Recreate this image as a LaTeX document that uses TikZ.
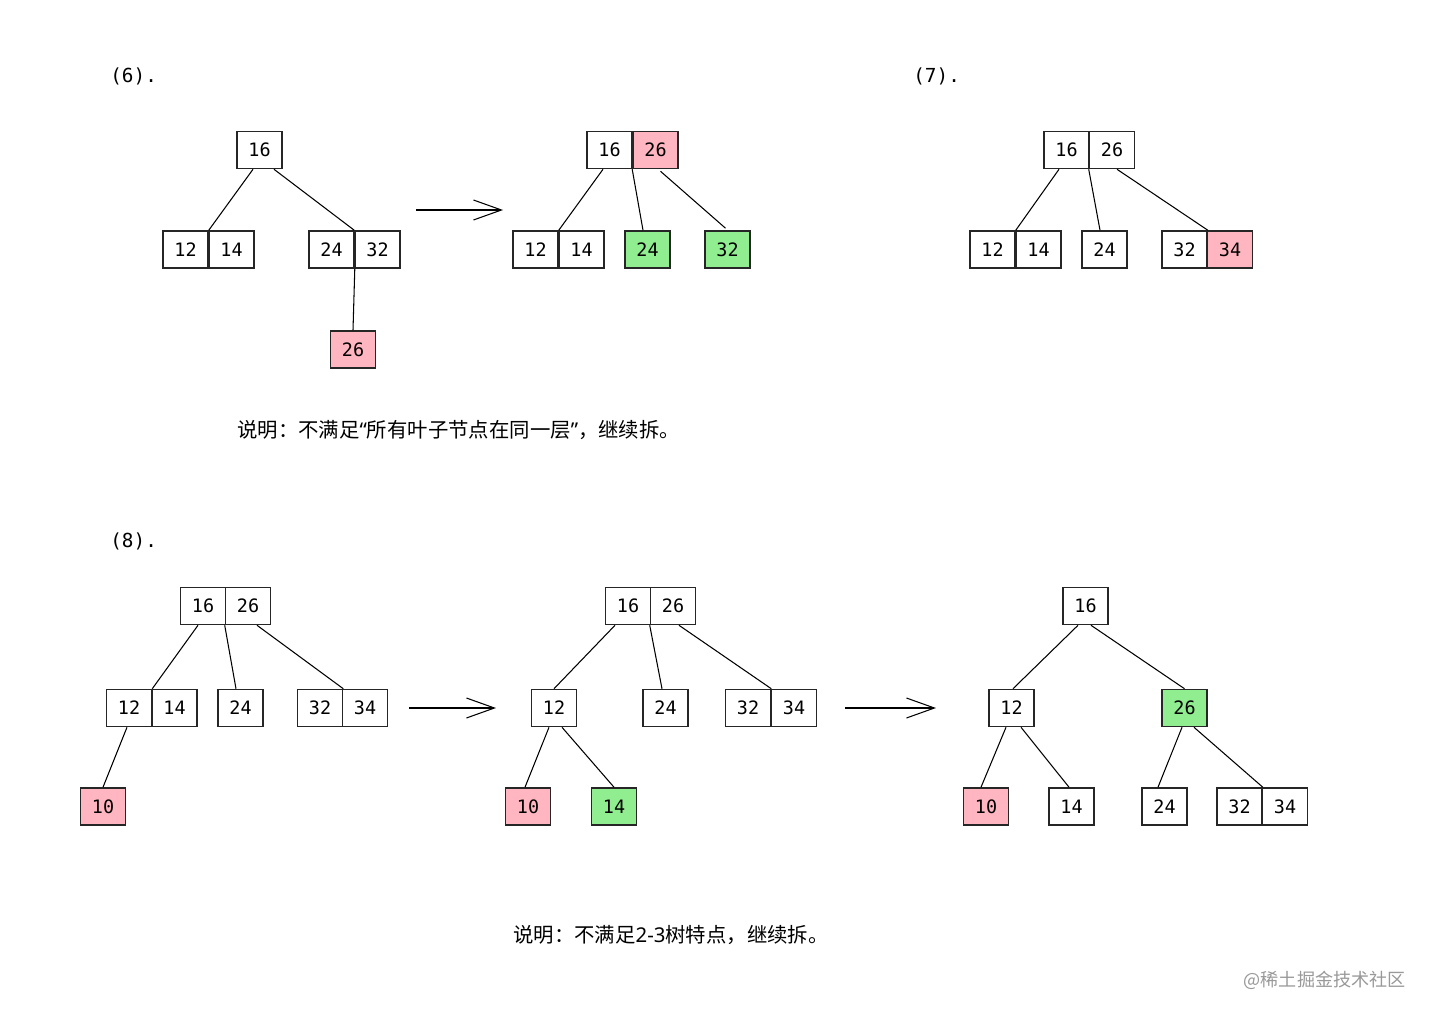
\documentclass[tikz,border=0pt]{standalone}
\usepackage{fontspec}
\setmainfont{DejaVu Sans Mono}
\newfontfamily\cjk{Noto Sans CJK SC}
\newfontfamily\lat{Noto Sans}
\usetikzlibrary{arrows.meta,calc}
\definecolor{pinkfill}{HTML}{FFB6C1}
\definecolor{greenfill}{HTML}{90EE90}
\begin{document}
\begin{tikzpicture}[x=0.02cm,y=-0.02cm,
  key/.style={draw=black!85,line width=0.9pt,minimum width=0.9cm,minimum height=0.74cm,inner sep=0pt,font=\fontsize{10.5}{12}\selectfont},
  pk/.style={key,fill=pinkfill},
  gk/.style={key,fill=greenfill},
  edge/.style={line width=0.6pt},
  bigarrow/.style={line width=0.6pt,-{Straight Barb[length=0.56cm,width=0.4cm,line width=0.6pt]}},
  lbl/.style={anchor=west,inner sep=0pt,font=\fontsize{11}{12}\selectfont},
  captext/.style={anchor=west,inner sep=0pt,font=\cjk\fontsize{11.6}{13}\selectfont}]
\useasboundingbox[fill=white] (0,0) rectangle (1433,1017);

% labels
\node[lbl] (l6) at (110,76) {(6).};
\node[lbl] (l7) at (913,76) {(7).};
\node[lbl] (l8) at (110,541) {(8).};

% panel 6 left
\node[key] (a16) at (259.5,150) {16};
\node[key] (a12) at (185.5,249.5) {12};
\node[key] (a14) at (231.5,249.5) {14};
\node[key] (a24) at (331.5,249.5) {24};
\node[key] (a32) at (377.5,249.5) {32};
\node[pk]  (a26) at (353,349.5) {26};
\draw[edge] ($(a16.south)+(-6.5,0)$) -- (a12.north east);
\draw[edge] ($(a16.south)+(14.5,0)$) -- (a32.north west);
\draw[edge] (a24.south east) -- (a26.north);

% arrow 1
\coordinate (ar1s) at (416,210);
\coordinate (ar1e) at (503,210);
\draw[bigarrow] (ar1s) -- (ar1e);

% panel 6 right
\node[key] (b16) at (609.5,150) {16};
\node[pk]  (b26) at (655.5,150) {26};
\node[key] (b12) at (535.5,249.5) {12};
\node[key] (b14) at (581.5,249.5) {14};
\node[gk]  (b24) at (647.5,249.5) {24};
\node[gk]  (b32) at (727.5,249.5) {32};
\draw[edge] ($(b16.south)+(-6.5,0)$) -- (b12.north east);
\draw[edge] (b26.south west) -- ($(b24.north)+(-4.5,0)$);
\draw[edge] ($(b26.south)+(5,2)$) -- ($(b32.north)+(-2,-2)$);

% panel 7
\node[key] (c16) at (1066.5,150) {16};
\node[key] (c26) at (1112,150) {26};
\node[key] (c12) at (992.5,249.5) {12};
\node[key] (c14) at (1038.5,249.5) {14};
\node[key] (c24) at (1104.5,249.5) {24};
\node[key] (c32) at (1184.5,249.5) {32};
\node[pk]  (c34) at (1230,249.5) {34};
\draw[edge] ($(c16.south)+(-7.5,0)$) -- (c12.north east);
\draw[edge] (c26.south west) -- ($(c24.north)+(-4.5,0)$);
\draw[edge] ($(c26.south)+(5,0)$) -- (c32.north east);

% caption 1
\node[captext] (cap1) at (237,430) {说明：不满足{\lat “}所有叶子节点在同一层{\lat ”}，继续拆。};

% panel 8 left
\node[key] (d16) at (203,606) {16};
\node[key] (d26) at (248,606) {26};
\node[key] (d12) at (129,708) {12};
\node[key] (d14) at (174.5,708) {14};
\node[key] (d24) at (240.5,708) {24};
\node[key] (d32) at (320,708) {32};
\node[key] (d34) at (365,708) {34};
\node[pk]  (d10) at (103,806.5) {10};
\draw[edge] ($(d16.south)+(-5,0)$) -- (d12.north east);
\draw[edge] (d26.south west) -- ($(d24.north)+(-4.5,0)$);
\draw[edge] ($(d26.south)+(9,0)$) -- (d32.north east);
\draw[edge] ($(d12.south)+(-2,0)$) -- (d10.north);

% arrow 2
\coordinate (ar2s) at (409,708);
\coordinate (ar2e) at (496,708);
\draw[bigarrow] (ar2s) -- (ar2e);

% panel 8 middle
\node[key] (e16) at (628,606) {16};
\node[key] (e26) at (673,606) {26};
\node[key] (e12) at (554,708) {12};
\node[key] (e24) at (665.5,708) {24};
\node[key] (e32) at (748,708) {32};
\node[key] (e34) at (794,708) {34};
\node[pk]  (e10) at (528,806.5) {10};
\node[gk]  (e14) at (614,806.5) {14};
\draw[edge] ($(e16.south)+(-13,0)$) -- (e12.north);
\draw[edge] (e26.south west) -- ($(e24.north)+(-3.5,0)$);
\draw[edge] ($(e26.south)+(6,0)$) -- (e32.north east);
\draw[edge] ($(e12.south)+(-5,0)$) -- ($(e10.north)+(-3,0)$);
\draw[edge] ($(e12.south)+(8,0)$) -- (e14.north);

% arrow 3
\coordinate (ar3s) at (845,708);
\coordinate (ar3e) at (936,708);
\draw[bigarrow] (ar3s) -- (ar3e);

% panel 8 right
\node[key] (f16) at (1085.5,606) {16};
\node[key] (f12) at (1011.5,708) {12};
\node[gk]  (f26) at (1184.5,708) {26};
\node[pk]  (f10) at (986,806.5) {10};
\node[key] (f14) at (1071.5,806.5) {14};
\node[key] (f24) at (1164.5,806.5) {24};
\node[key] (f32) at (1239.5,806.5) {32};
\node[key] (f34) at (1285,806.5) {34};
\draw[edge] ($(f16.south)+(-7.5,0)$) -- ($(f12.north)+(1.5,0)$);
\draw[edge] ($(f16.south)+(5.5,0)$) -- (f26.north);
\draw[edge] ($(f12.south)+(-5.5,0)$) -- ($(f10.north)+(-5,0)$);
\draw[edge] ($(f12.south)+(9.5,0)$) -- ($(f14.north)+(-2.5,0)$);
\draw[edge] ($(f26.south)+(-2.5,0)$) -- ($(f24.north)+(-6.5,0)$);
\draw[edge] ($(f26.south)+(9.5,0)$) -- (f32.north east);

% caption 2
\node[captext] (cap2) at (513,935) {说明：不满足{\lat 2-3}树特点，继续拆。};

% watermark
\node[anchor=east,inner sep=0pt,text=black!40,font=\cjk\fontsize{10.3}{12}\selectfont] (wm) at (1406,980) {@稀土掘金技术社区};
\end{tikzpicture}
\end{document}
